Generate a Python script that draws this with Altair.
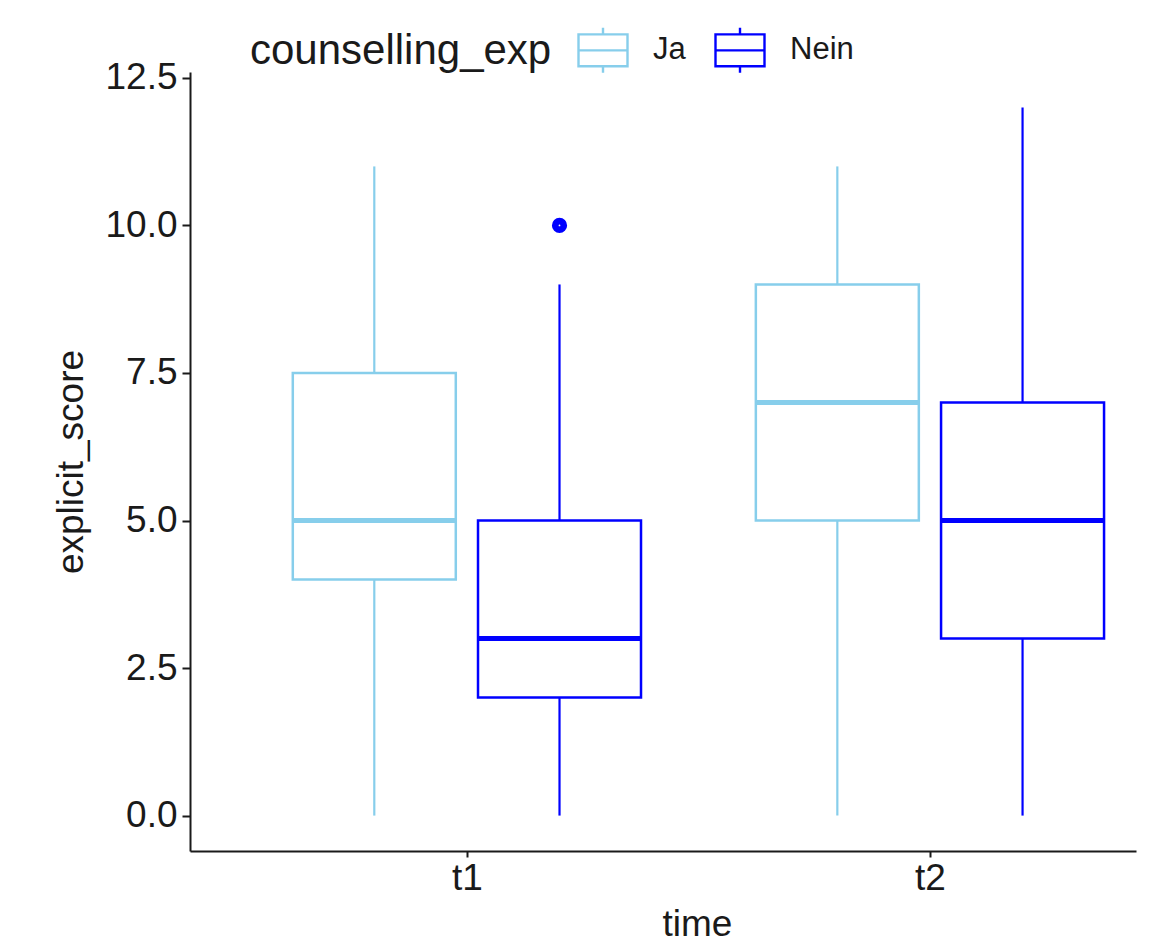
import altair as alt
import pandas as pd

# Box statistics
times = ["t1", "t1", "t2", "t2"]
groups = ["Ja", "Nein", "Ja", "Nein"]
whisker_low = [0, 0, 0, 0]
q1 = [4, 2, 5, 3]
median = [5, 3, 7, 5]
q3 = [7.5, 5, 9, 7]
whisker_high = [11, 9, 11, 12]

# Outliers
out_time = ["t1"]
out_group = ["Nein"]
out_value = [10]

group_domain = ["Ja", "Nein"]
group_colors = ["#87CEEB", "#0000FF"]
time_labels = ["t1", "t2"]
y_ticks = [0, 2.5, 5, 7.5, 10, 12.5]

box_df = pd.DataFrame(dict(time=times, counselling_exp=groups, lo=whisker_low,
                           q1=q1, med=median, q3=q3, hi=whisker_high))
out_df = pd.DataFrame(dict(time=out_time, counselling_exp=out_group, explicit_score=out_value))

FONT = "Liberation Sans"
pos_expr = ("(indexof(['t1','t2'], datum.time) + 1) + "
            "(datum.counselling_exp == 'Ja' ? -0.2 : 0.2)")
HALF = 0.176

xscale = alt.Scale(domain=[0.402, 2.445], nice=False, zero=False)
yscale = alt.Scale(domain=[-0.6, 12.6], nice=False, zero=False)
sscale = alt.Scale(domain=group_domain, range=group_colors)

x_axis = alt.Axis(values=[1, 2], labelExpr="datum.value == 1 ? 't1' : 't2'",
                  title="time", tickSize=6, labelPadding=3, titlePadding=10,
                  titleX=507)
y_axis = alt.Axis(values=y_ticks, format=".1f", title="explicit_score",
                  tickSize=8, labelPadding=5, titlePadding=14)

legend = alt.Legend(
    orient="none", legendX=60, legendY=-48, direction="horizontal",
    titleOrient="left", title="counselling_exp", titleFontSize=42,
    titleFont=FONT, titleFontWeight="normal", titleColor="#1a1a1a",
    titlePadding=25, titleBaseline="middle", titleLimit=600,
    labelFontSize=31, labelFont=FONT, labelColor="#1a1a1a", labelOffset=24,
    columnPadding=24,
    symbolType="M-1,-0.65H1V0.65H-1Z M-1,0H1 M0,-0.65V-0.92 M0,0.65V0.92",
    symbolSize=2401, symbolStrokeWidth=2.4, symbolFillColor="white",
)

stroke_enc = alt.Stroke("counselling_exp:N", scale=sscale, legend=legend)

base = (alt.Chart(box_df)
        .transform_calculate(xc=pos_expr)
        .transform_calculate(xl=f"datum.xc - {HALF}", xr=f"datum.xc + {HALF}"))

box = base.mark_rect(filled=False, strokeWidth=2.5).encode(
    x=alt.X("xl:Q", scale=xscale, axis=x_axis),
    x2="xr:Q",
    y=alt.Y("q1:Q", scale=yscale, axis=y_axis),
    y2="q3:Q",
    stroke=stroke_enc,
)
whisk_lo = base.mark_rule(strokeWidth=2.2).encode(
    x=alt.X("xc:Q", scale=xscale),
    y=alt.Y("lo:Q", scale=yscale),
    y2="q1:Q",
    stroke=stroke_enc,
)
whisk_hi = base.mark_rule(strokeWidth=2.2).encode(
    x=alt.X("xc:Q", scale=xscale),
    y=alt.Y("q3:Q", scale=yscale),
    y2="hi:Q",
    stroke=stroke_enc,
)
med = base.mark_rule(strokeWidth=5).encode(
    x=alt.X("xl:Q", scale=xscale),
    x2="xr:Q",
    y=alt.Y("med:Q", scale=yscale),
    stroke=stroke_enc,
)
outl = (alt.Chart(out_df)
        .transform_calculate(xc=pos_expr)
        .mark_point(shape="circle", filled=False, size=45, strokeWidth=8.5, opacity=1)
        .encode(
            x=alt.X("xc:Q", scale=xscale),
            y=alt.Y("explicit_score:Q", scale=yscale),
            stroke=stroke_enc,
        ))

chart = (alt.layer(box, whisk_lo, whisk_hi, med, outl)
         .properties(width=946, height=779,
                     autosize=alt.AutoSizeParams(type="none"),
                     padding={"left": 182, "top": 64, "right": 30, "bottom": 95})
         .configure_view(stroke=None)
         .configure_axis(grid=False, domainColor="#1a1a1a", domainWidth=2,
                         tickColor="#1a1a1a", tickWidth=2,
                         labelFont=FONT, labelFontSize=37, labelColor="#1a1a1a",
                         titleFont=FONT, titleFontSize=37, titleColor="#1a1a1a",
                         titleFontWeight="normal"))

chart.save("out.html", embed_options={"renderer": "svg", "actions": False})
